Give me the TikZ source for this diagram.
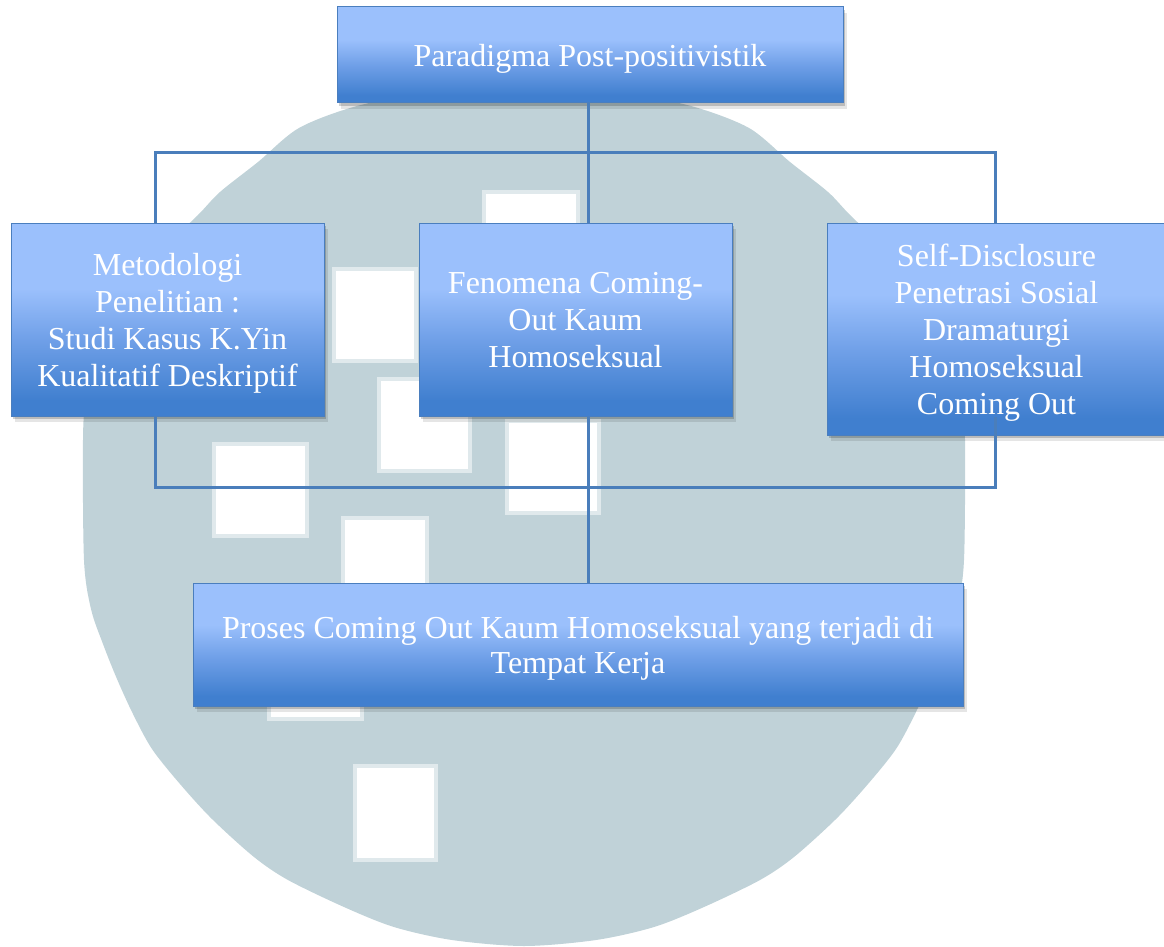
\documentclass[tikz,border=0pt]{standalone}
\usepackage{fontspec}
\setmainfont{Liberation Serif}
\usetikzlibrary{shadows}
\definecolor{wm}{RGB}{192,210,216}
\definecolor{wmedge}{RGB}{224,233,236}
\definecolor{blight}{RGB}{155,192,252}
\definecolor{bmid}{RGB}{112,160,232}
\definecolor{bdark}{RGB}{64,127,207}
\definecolor{bborder}{RGB}{74,126,190}
\definecolor{linkcol}{RGB}{74,126,187}
\pgfdeclareverticalshading{boxgrad}{100bp}{color(0bp)=(bdark); color(29bp)=(bdark); color(45bp)=(bmid); color(58bp)=(blight); color(100bp)=(blight)}
\begin{document}
\begin{tikzpicture}[x=1pt,y=-1pt,
  box/.style={draw=bborder, line width=1pt, shade, shading=boxgrad, text=white,
    align=center, inner sep=0pt, text depth=0pt, font=\fontsize{32}{37}\selectfont,
    general shadow={shadow xshift=2pt, shadow yshift=-3pt, fill=black, opacity=.18},
    general shadow={shadow xshift=4pt, shadow yshift=-6pt, fill=black, opacity=.10}},
  link/.style={draw=linkcol, line width=3pt},
  wsq/.style={fill=white, draw=wmedge, line width=4pt}]
\useasboundingbox (0,0) rectangle (1164,947);
\fill[white] (0,0) rectangle (1164,947);
% watermark
\fill[wm] plot[smooth cycle, tension=0.5] coordinates {
 (524,86) (620,93) (691,106) (749,128) (790,162) (828,192) (850,215) (894,258) (926,300)
 (950,350) (962,400) (965,440) (964,560) (957,609) (945,644) (931,679) (915,714)
 (896,749) (868,784) (836,819) (794,857) (760,880) (704,907) (654,927) (596,940)
 (524,946) (452,940) (394,927) (344,907) (288,880) (254,857) (212,819) (180,784)
 (152,749) (133,714) (117,679) (103,644) (91,609) (84,560) (83,440) (86,400)
 (98,350) (122,300) (154,258) (198,215) (220,192) (258,162) (299,128) (357,106) (428,93)};
\path[wsq] (484,192) rectangle (578,285);
\path[wsq] (334,269) rectangle (416,361);
\path[wsq] (379,379) rectangle (470,471);
\path[wsq] (214,444) rectangle (307,536);
\path[wsq] (507,421) rectangle (599,513);
\path[wsq] (343,518) rectangle (427,610);
\path[wsq] (269,627) rectangle (362,719);
\path[wsq] (355,766) rectangle (436,860);
% boxes
\node[box, minimum width=506pt, minimum height=96pt] (top) at (590,55) {Paradigma Post-positivistik};
\node[box, minimum width=313pt, minimum height=193pt] (meth) at (167.5,319.5) {Metodologi\\Penelitian :\\Studi Kasus K.Yin\\Kualitatif Deskriptif};
\node[box, minimum width=313pt, minimum height=193pt] (fen) at (575.5,319.5) {Fenomena Coming-\\Out Kaum\\Homoseksual};
\node[box, minimum width=339pt, minimum height=212pt] (self) at (996.5,329) {Self-Disclosure\\Penetrasi Sosial\\Dramaturgi\\Homoseksual\\Coming Out};
\node[box, minimum width=770pt, minimum height=123pt, font=\fontsize{32}{35}\selectfont] (proc) at (578,644.5) {Proses Coming Out Kaum Homoseksual yang terjadi di\\Tempat Kerja};
% connectors
\coordinate (jt) at (588,152);
\coordinate (bl) at (155,152);
\coordinate (br) at (995,152);
\coordinate (ll) at (155,487);
\coordinate (lr) at (995,487);
\draw[link] (top.south -| jt) -- (fen.north -| jt);
\draw[link] (meth.north -| bl) -- (bl) -- (br) -- (self.north -| br);
\draw[link] (meth.south -| ll) -- (ll) -- (lr) -- (meth.south -| lr);
\draw[link] (fen.south -| jt) -- (proc.north -| jt);
\end{tikzpicture}
\end{document}
